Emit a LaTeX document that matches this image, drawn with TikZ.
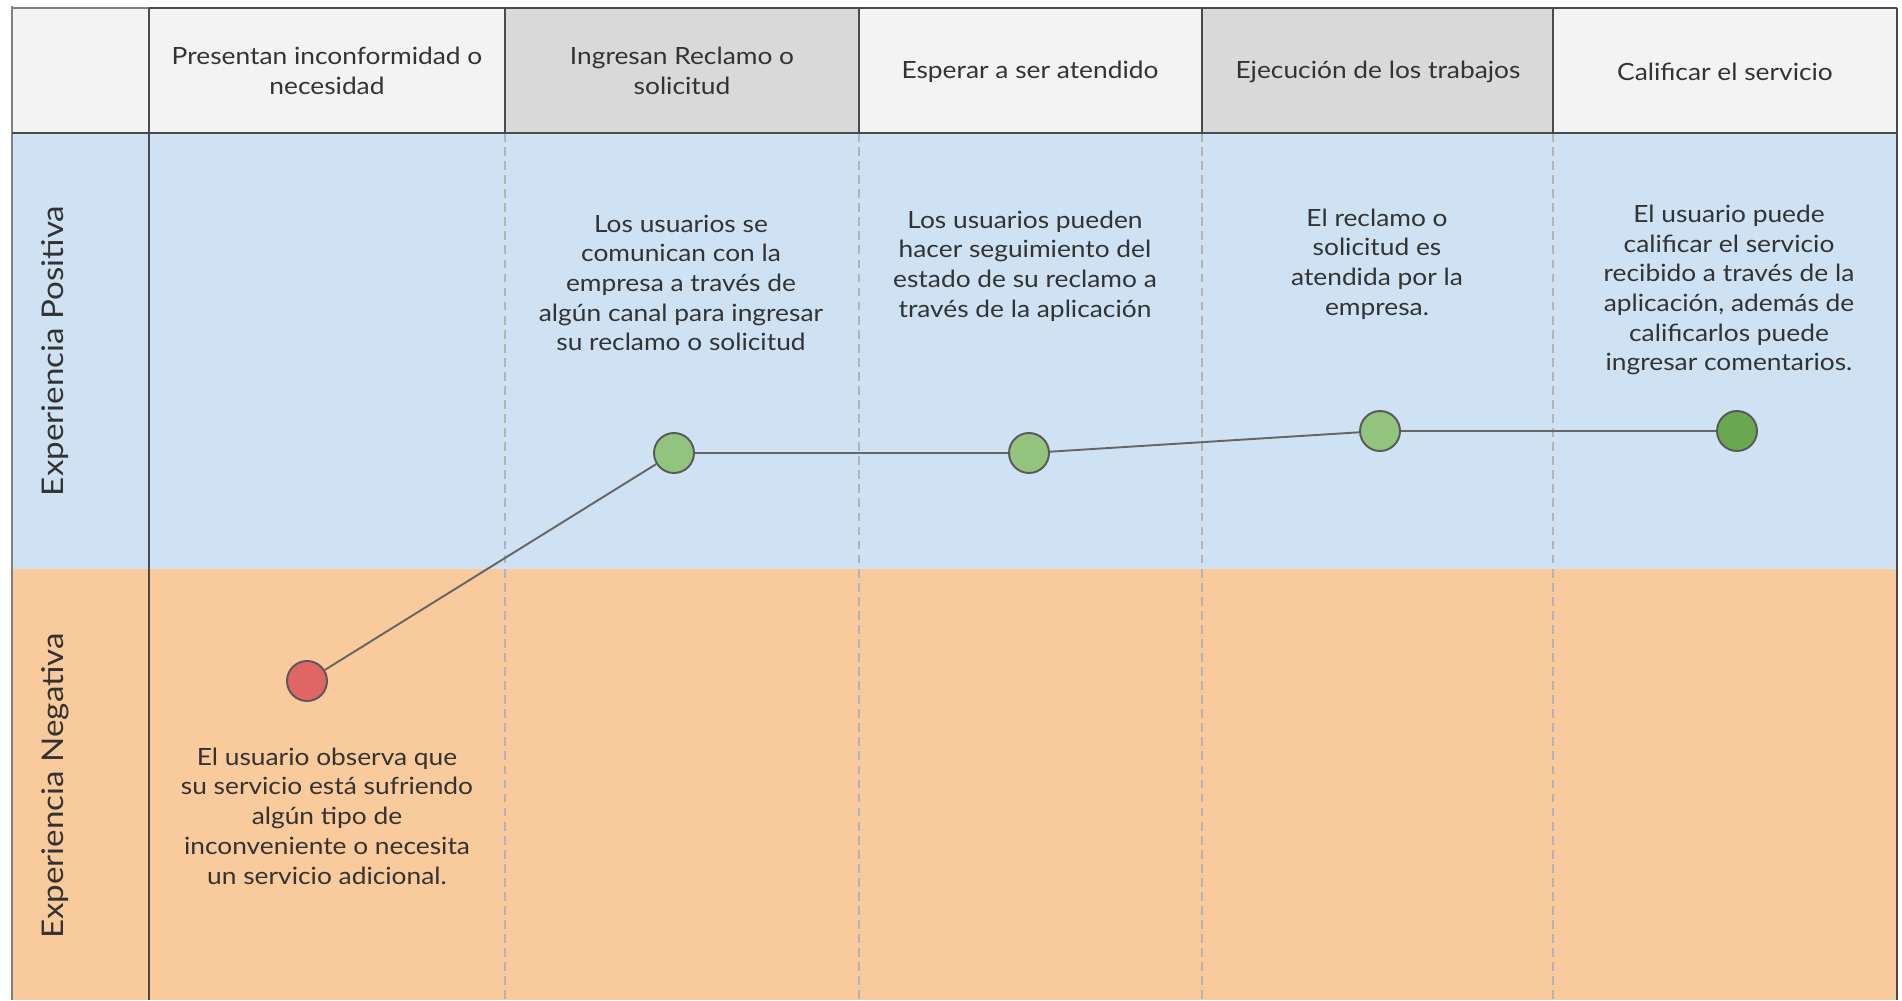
\documentclass[tikz,border=0pt]{standalone}
\usepackage{fontspec}
\setmainfont[FakeStretch=1.11]{Lato}
\definecolor{txt}{HTML}{333333}
\definecolor{hlight}{HTML}{F3F3F3}
\definecolor{hdark}{HTML}{D9D9D9}
\definecolor{posbg}{HTML}{CFE2F3}
\definecolor{negbg}{HTML}{F9CB9C}
\definecolor{gridc}{HTML}{4A4A4A}
\definecolor{dashc}{HTML}{B4B4B4}
\definecolor{linec}{HTML}{666666}
\definecolor{bord}{HTML}{595959}
\definecolor{redd}{HTML}{E06666}
\definecolor{lgreen}{HTML}{93C47D}
\definecolor{dgreen}{HTML}{6AA84F}
\tikzset{
  body/.style={font=\fontsize{13.5}{16.9}\selectfont, text=txt, align=center, inner sep=0pt},
  sidelabel/.style={font=\fontsize{17}{20}\selectfont, text=txt, rotate=90, inner sep=0pt},
  dot/.style={circle, minimum size=0.8cm, inner sep=0pt, draw=bord, line width=1.1pt},
  conn/.style={draw=linec, line width=1.1pt},
  gridline/.style={draw=gridc, line width=1.1pt},
  sepline/.style={draw=dashc, line width=0.8pt, dash pattern=on 5pt off 3pt}
}
\begin{document}
\begin{tikzpicture}[x=0.02cm,y=-0.02cm]
\useasboundingbox (0,0) rectangle (1902,1000);
\fill[white] (0,0) rectangle (1902,1000);
% fills
\fill[hlight] (12,8) rectangle (149,133);
\fill[hlight] (149,8) rectangle (505,133);
\fill[hdark] (505,8) rectangle (859,133);
\fill[hlight] (859,8) rectangle (1202,133);
\fill[hdark] (1202,8) rectangle (1553,133);
\fill[hlight] (1553,8) rectangle (1897,133);
\fill[posbg] (12,133) rectangle (1897,569);
\fill[negbg] (12,569) rectangle (1897,1000);
% dashed separators
\foreach \xx in {505,859,1202,1553} {\draw[sepline] (\xx,133) -- (\xx,1000);}
% grid lines
\draw[draw=gray, line width=1.1pt] (12,8) -- (149,8);
\draw[gridline] (149,8) -- (1897,8);
\draw[draw=gray, line width=1.4pt] (12,6) -- (12,1000);
\draw[gridline] (149,8) -- (149,1000);
\foreach \xx in {505,859,1202,1553} {\draw[gridline] (\xx,8) -- (\xx,133);}
\draw[gridline] (12,133) -- (1897,133);
\draw[gridline] (1897,8) -- (1897,1000);
% headers
\node[body] (h1) at (327,71) {Presentan inconformidad o\\necesidad};
\node[body] (h2) at (682,71) {Ingresan Reclamo o\\solicitud};
\node[body] (h3) at (1030,72) {Esperar a ser atendido};
\node[body] (h4) at (1378,72) {Ejecución de los trabajos};
\node[body] (h5) at (1725,72) {Calificar el servicio};
% side labels
\node[sidelabel] (lp) at (55,351) {Experiencia Positiva};
\node[sidelabel] (ln) at (55,786) {Experiencia Negativa};
% descriptions
\node[body] (d1) at (327,816) {El usuario observa que\\su servicio está sufriendo\\algún tipo de\\inconveniente o necesita\\un servicio adicional.};
\node[body] (d2) at (681,283) {Los usuarios se\\comunican con la\\empresa a través de\\algún canal para ingresar\\su reclamo o solicitud};
\node[body] (d3) at (1025,266) {Los usuarios pueden\\hacer seguimiento del\\estado de su reclamo a\\través de la aplicación};
\node[body] (d4) at (1377,264) {El reclamo o\\solicitud es\\atendida por la\\empresa.};
\node[body] (d5) at (1729,290) {El usuario puede\\calificar el servicio\\recibido a través de la\\aplicación, además de\\calificarlos puede\\ingresar comentarios.};
% points
\node[dot, fill=redd] (p1) at (307,681) {};
\node[dot, fill=lgreen] (p2) at (674,453) {};
\node[dot, fill=lgreen] (p3) at (1029,453) {};
\node[dot, fill=lgreen] (p4) at (1380,431) {};
\node[dot, fill=dgreen] (p5) at (1737,431) {};
\draw[conn] (p1) -- (p2) -- (p3) -- (p4) -- (p5);
\end{tikzpicture}
\end{document}
